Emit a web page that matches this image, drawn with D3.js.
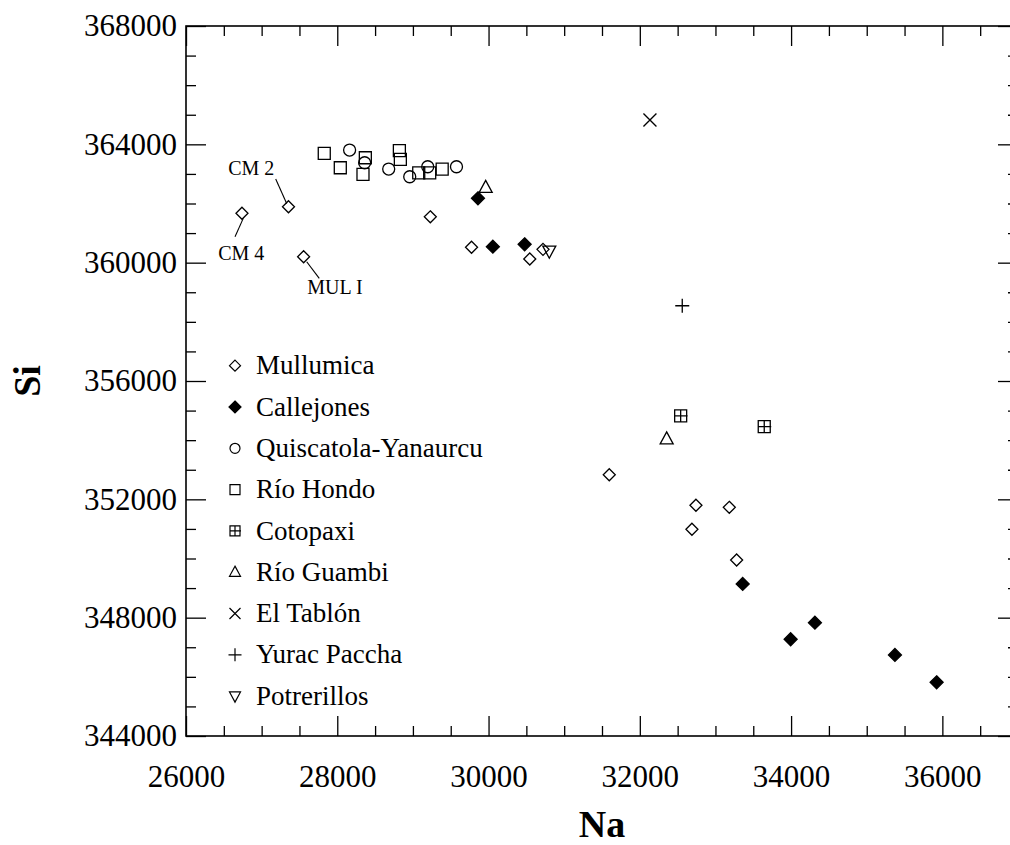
<!DOCTYPE html>
<html>
<head>
<meta charset="utf-8">
<script src="https://cdn.jsdelivr.net/npm/d3@7"></script>
<style>
  body { margin: 0; background: #fff; }
  svg text { font-family: "Liberation Serif", "Times New Roman", serif; fill: #000; }
</style>
</head>
<body>
<div id="chart"></div>
<script>
// group names and symbols
var groups = ['Mullumica', 'Callejones', 'Quiscatola-Yanaurcu', 'Río Hondo', 'Cotopaxi',
	'Río Guambi', 'El Tablón', 'Yurac Paccha', 'Potrerillos'];
var shapes = ['diamond', 'diamondFilled', 'circle', 'square', 'squarePlus',
	'triangle', 'cross', 'plus', 'triangleDown'];

// Na / Si values per group
var mullumicaNa = [26740, 27355, 27555, 29230, 29775, 30545, 30720, 31596, 32742, 33183, 32689, 33280];
var mullumicaSi = [361670, 361890, 360200, 361550, 360520, 360125, 360450, 352830, 351800, 351730, 350990, 349950];
var callejonesNa = [29860, 30057, 30477, 33360, 33994, 34315, 35373, 35924];
var callejonesSi = [362175, 360540, 360620, 349140, 347270, 347830, 346740, 345815];
var quiscatolaNa = [28163, 28362, 28680, 28958, 29196, 29576];
var quiscatolaSi = [363807, 363378, 363165, 362905, 363243, 363243];
var rioHondoNa = [27828, 28040, 28371, 28340, 28821, 28834, 29077, 29222, 29387];
var rioHondoSi = [363695, 363209, 363547, 362986, 363784, 363494, 363032, 363032, 363165];
var cotopaxiNa = [32540, 33645];
var cotopaxiSi = [354823, 354455];
var guambiNa = [29962, 32355];
var guambiSi = [362540, 354039];
var tablonNa = [32134];
var tablonSi = [364821];
var yuracNa = [32561];
var yuracSi = [358544];
var potrerillosNa = [30803];
var potrerillosSi = [360393];

var seriesNa = [mullumicaNa, callejonesNa, quiscatolaNa, rioHondoNa, cotopaxiNa, guambiNa, tablonNa, yuracNa, potrerillosNa];
var seriesSi = [mullumicaSi, callejonesSi, quiscatolaSi, rioHondoSi, cotopaxiSi, guambiSi, tablonSi, yuracSi, potrerillosSi];

// tick labels
var xTicks = [26000, 28000, 30000, 32000, 34000, 36000];
var yTicks = [344000, 348000, 352000, 356000, 360000, 364000, 368000];

// sample labels: text, label anchor (Na, Si), leader line from/to (Na, Si)
var noteText = ['CM 2', 'CM 4', 'MUL I'];
var noteAt = [[26863, 362962], [26731, 360089], [27970, 358940]];
var noteLine = [
	[[27186, 362827], [27331, 362002]],
	[[26648, 360876], [26757, 361498]],
	[[27596, 360031], [27762, 359470]]
];

var width = 1010;
var height = 845;
var plotLeft = 186, plotRight = 1018, plotTop = 26, plotBottom = 736;

var svg = d3.select('#chart')
	.append('svg')
	.attr('width', width)
	.attr('height', height);

var x_scale = d3.scaleLinear().domain([26000, 37000]).range([plotLeft, plotRight]);
var y_scale = d3.scaleLinear().domain([344000, 368000]).range([plotBottom, plotTop]);

// shape paths
function shapePath(name, s) {
	switch (name) {
		case 'diamond':
		case 'diamondFilled':
			return 'M0,' + (-s) + 'L' + s + ',0L0,' + s + 'L' + (-s) + ',0Z';
		case 'circle':
			return 'M' + s + ',0A' + s + ',' + s + ' 0 1,1 ' + (-s) + ',0A' + s + ',' + s + ' 0 1,1 ' + s + ',0Z';
		case 'square':
			return 'M' + (-s) + ',' + (-s) + 'H' + s + 'V' + s + 'H' + (-s) + 'Z';
		case 'squarePlus':
			return 'M' + (-s) + ',' + (-s) + 'H' + s + 'V' + s + 'H' + (-s) + 'Z' +
				'M' + (-s) + ',0H' + (s + 1) + 'M0,' + (-s) + 'V' + s;
		case 'triangle':
			return 'M0,' + (-s * 1.1) + 'L' + s + ',' + (s * 0.75) + 'L' + (-s) + ',' + (s * 0.75) + 'Z';
		case 'triangleDown':
			return 'M0,' + (s * 1.1) + 'L' + s + ',' + (-s * 0.75) + 'L' + (-s) + ',' + (-s * 0.75) + 'Z';
		case 'cross':
			return 'M' + (-s) + ',' + (-s) + 'L' + s + ',' + s + 'M' + (-s) + ',' + s + 'L' + s + ',' + (-s);
		case 'plus':
			return 'M' + (-s) + ',0H' + s + 'M0,' + (-s) + 'V' + s;
	}
}
var plotSize = { diamond: 6, diamondFilled: 6.5, circle: 6, square: 6, squarePlus: 6,
	triangle: 6.5, triangleDown: 6.5, cross: 6.5, plus: 7 };
var legendSize = { diamond: 5.5, diamondFilled: 6, circle: 5, square: 5, squarePlus: 5,
	triangle: 5.5, triangleDown: 5.5, cross: 5.5, plus: 6.5 };

// axes: major ticks inward with labels, minor ticks inward
function minor(lo, hi, step, majorStep) {
	return d3.range(lo, hi + 1, step).filter(function (v) { return v % majorStep !== 0; });
}
var xMinor = minor(26000, 37000, 500, 2000);
var yMinor = minor(344000, 368000, 1000, 4000);

var fmt = d3.format('d');

svg.append('g')
	.attr('transform', 'translate(0,' + plotBottom + ')')
	.call(d3.axisBottom(x_scale).tickValues(xTicks).tickFormat(fmt).tickSize(-20).tickSizeOuter(0).tickPadding(29));
svg.append('g')
	.attr('transform', 'translate(0,' + plotBottom + ')')
	.call(d3.axisBottom(x_scale).tickValues(xMinor).tickFormat('').tickSize(-10).tickSizeOuter(0));
svg.append('g')
	.attr('transform', 'translate(0,' + plotTop + ')')
	.call(d3.axisTop(x_scale).tickValues(xTicks).tickFormat('').tickSize(-20).tickSizeOuter(0));
svg.append('g')
	.attr('transform', 'translate(0,' + plotTop + ')')
	.call(d3.axisTop(x_scale).tickValues(xMinor).tickFormat('').tickSize(-10).tickSizeOuter(0));

svg.append('g')
	.attr('transform', 'translate(' + plotLeft + ',0)')
	.call(d3.axisLeft(y_scale).tickValues(yTicks).tickFormat(fmt).tickSize(-20).tickSizeOuter(0).tickPadding(9));
svg.append('g')
	.attr('transform', 'translate(' + plotLeft + ',0)')
	.call(d3.axisLeft(y_scale).tickValues(yMinor).tickFormat('').tickSize(-10).tickSizeOuter(0));
svg.append('g')
	.attr('transform', 'translate(' + plotRight + ',0)')
	.call(d3.axisRight(y_scale).tickValues(yTicks).tickFormat('').tickSize(-20).tickSizeOuter(0));
svg.append('g')
	.attr('transform', 'translate(' + plotRight + ',0)')
	.call(d3.axisRight(y_scale).tickValues(yMinor).tickFormat('').tickSize(-10).tickSizeOuter(0));

svg.selectAll('.domain').remove();
svg.selectAll('.tick line').attr('stroke', '#000').attr('stroke-width', 1.3);
svg.selectAll('.tick text')
	.style('font-family', '"Liberation Serif", serif')
	.style('font-size', '31px')
	.attr('fill', '#000');

// frame
svg.append('rect')
	.attr('x', plotLeft)
	.attr('y', plotTop)
	.attr('width', plotRight - plotLeft)
	.attr('height', plotBottom - plotTop)
	.attr('fill', 'none')
	.attr('stroke', '#000')
	.attr('stroke-width', 1.6);

// axis titles
svg.append('text')
	.attr('x', (plotLeft + plotRight) / 2)
	.attr('y', 837)
	.attr('text-anchor', 'middle')
	.style('font-size', '38px')
	.style('font-weight', 'bold')
	.text('Na');
svg.append('text')
	.attr('transform', 'translate(40,' + ((plotTop + plotBottom) / 2) + ') rotate(-90)')
	.attr('text-anchor', 'middle')
	.style('font-size', '38px')
	.style('font-weight', 'bold')
	.text('Si');

// points
var points = [];
groups.forEach(function (g, i) {
	seriesNa[i].forEach(function (na, j) {
		points.push({ group: i, na: na, si: seriesSi[i][j] });
	});
});

svg.append('g')
	.selectAll('path')
	.data(points)
	.enter()
	.append('path')
	.attr('transform', function (d) {
		return 'translate(' + x_scale(d.na) + ',' + y_scale(d.si) + ')';
	})
	.attr('d', function (d) {
		return shapePath(shapes[d.group], plotSize[shapes[d.group]]);
	})
	.attr('fill', function (d) {
		return shapes[d.group] === 'diamondFilled' ? '#000' : 'none';
	})
	.attr('stroke', '#000')
	.attr('stroke-width', 1.3);

// sample labels
svg.append('g')
	.selectAll('line')
	.data(noteLine)
	.enter()
	.append('line')
	.attr('x1', function (d) { return x_scale(d[0][0]); })
	.attr('y1', function (d) { return y_scale(d[0][1]); })
	.attr('x2', function (d) { return x_scale(d[1][0]); })
	.attr('y2', function (d) { return y_scale(d[1][1]); })
	.attr('stroke', '#000')
	.attr('stroke-width', 1.1);
svg.append('g')
	.selectAll('text')
	.data(noteText)
	.enter()
	.append('text')
	.attr('x', function (d, i) { return x_scale(noteAt[i][0]); })
	.attr('y', function (d, i) { return y_scale(noteAt[i][1]); })
	.attr('text-anchor', 'middle')
	.style('font-size', '20px')
	.text(function (d) { return d; });

// legend
var legend = svg.append('g')
	.selectAll('g')
	.data(groups)
	.enter()
	.append('g')
	.attr('transform', function (d, i) {
		return 'translate(235,' + (365.7 + i * 41.3) + ')';
	});
legend.append('path')
	.attr('d', function (d, i) { return shapePath(shapes[i], legendSize[shapes[i]]); })
	.attr('fill', function (d, i) { return shapes[i] === 'diamondFilled' ? '#000' : 'none'; })
	.attr('stroke', '#000')
	.attr('stroke-width', 1.2);
legend.append('text')
	.attr('x', 21)
	.attr('dy', '0.32em')
	.style('font-size', '27px')
	.text(function (d) { return d; });
</script>
</body>
</html>
